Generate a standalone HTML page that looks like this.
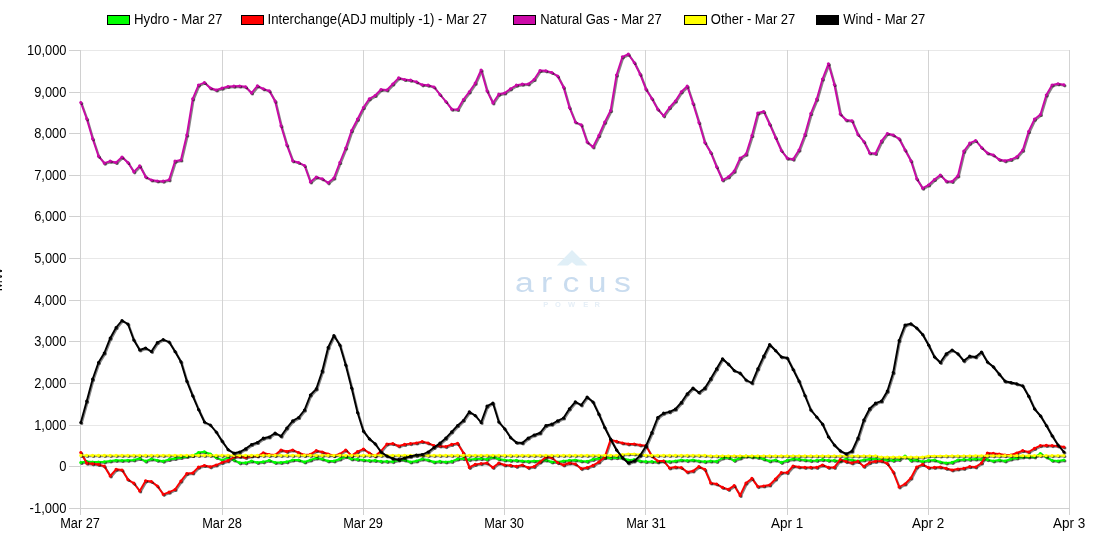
<!DOCTYPE html>
<html><head><meta charset="utf-8"><title>Chart</title>
<style>
html,body{margin:0;padding:0;background:#fff;}
body{width:1100px;height:560px;overflow:hidden;}
svg{display:block;}
text{font-family:"Liberation Sans",Arial,sans-serif;font-size:14px;fill:#000;}
</style></head><body>
<svg width="1100" height="560" viewBox="0 0 1100 560">
<rect width="1100" height="560" fill="#fff"/>
<g shape-rendering="crispEdges"><line x1="80" y1="50.5" x2="1070" y2="50.5" stroke="#e8e8e8" stroke-width="1"/>
<line x1="80" y1="92.5" x2="1070" y2="92.5" stroke="#e8e8e8" stroke-width="1"/>
<line x1="80" y1="133.5" x2="1070" y2="133.5" stroke="#e8e8e8" stroke-width="1"/>
<line x1="80" y1="175.5" x2="1070" y2="175.5" stroke="#e8e8e8" stroke-width="1"/>
<line x1="80" y1="216.5" x2="1070" y2="216.5" stroke="#e8e8e8" stroke-width="1"/>
<line x1="80" y1="258.5" x2="1070" y2="258.5" stroke="#e8e8e8" stroke-width="1"/>
<line x1="80" y1="300.5" x2="1070" y2="300.5" stroke="#e8e8e8" stroke-width="1"/>
<line x1="80" y1="341.5" x2="1070" y2="341.5" stroke="#e8e8e8" stroke-width="1"/>
<line x1="80" y1="383.5" x2="1070" y2="383.5" stroke="#e8e8e8" stroke-width="1"/>
<line x1="80" y1="425.5" x2="1070" y2="425.5" stroke="#e8e8e8" stroke-width="1"/>
<line x1="80" y1="466.5" x2="1070" y2="466.5" stroke="#e8e8e8" stroke-width="1"/>
<line x1="80" y1="508.5" x2="1070" y2="508.5" stroke="#e8e8e8" stroke-width="1"/>
<line x1="80.5" y1="50" x2="80.5" y2="508" stroke="#d3d3d3" stroke-width="1"/>
<line x1="222.5" y1="50" x2="222.5" y2="508" stroke="#d3d3d3" stroke-width="1"/>
<line x1="363.5" y1="50" x2="363.5" y2="508" stroke="#d3d3d3" stroke-width="1"/>
<line x1="504.5" y1="50" x2="504.5" y2="508" stroke="#d3d3d3" stroke-width="1"/>
<line x1="645.5" y1="50" x2="645.5" y2="508" stroke="#d3d3d3" stroke-width="1"/>
<line x1="787.5" y1="50" x2="787.5" y2="508" stroke="#d3d3d3" stroke-width="1"/>
<line x1="928.5" y1="50" x2="928.5" y2="508" stroke="#d3d3d3" stroke-width="1"/>
<line x1="1069.5" y1="50" x2="1069.5" y2="508" stroke="#d3d3d3" stroke-width="1"/></g>
<g shape-rendering="crispEdges"><line x1="80.5" y1="50" x2="80.5" y2="509" stroke="#d0d0d0"/>
<line x1="69" y1="508.5" x2="1070" y2="508.5" stroke="#d0d0d0"/>
<line x1="69" y1="50.5" x2="80" y2="50.5" stroke="#d0d0d0"/>
<line x1="69" y1="92.5" x2="80" y2="92.5" stroke="#d0d0d0"/>
<line x1="69" y1="133.5" x2="80" y2="133.5" stroke="#d0d0d0"/>
<line x1="69" y1="175.5" x2="80" y2="175.5" stroke="#d0d0d0"/>
<line x1="69" y1="216.5" x2="80" y2="216.5" stroke="#d0d0d0"/>
<line x1="69" y1="258.5" x2="80" y2="258.5" stroke="#d0d0d0"/>
<line x1="69" y1="300.5" x2="80" y2="300.5" stroke="#d0d0d0"/>
<line x1="69" y1="341.5" x2="80" y2="341.5" stroke="#d0d0d0"/>
<line x1="69" y1="383.5" x2="80" y2="383.5" stroke="#d0d0d0"/>
<line x1="69" y1="425.5" x2="80" y2="425.5" stroke="#d0d0d0"/>
<line x1="69" y1="466.5" x2="80" y2="466.5" stroke="#d0d0d0"/>
<line x1="69" y1="508.5" x2="80" y2="508.5" stroke="#d0d0d0"/>
<line x1="80.5" y1="508" x2="80.5" y2="515" stroke="#d0d0d0"/>
<line x1="222.5" y1="508" x2="222.5" y2="515" stroke="#d0d0d0"/>
<line x1="363.5" y1="508" x2="363.5" y2="515" stroke="#d0d0d0"/>
<line x1="504.5" y1="508" x2="504.5" y2="515" stroke="#d0d0d0"/>
<line x1="645.5" y1="508" x2="645.5" y2="515" stroke="#d0d0d0"/>
<line x1="787.5" y1="508" x2="787.5" y2="515" stroke="#d0d0d0"/>
<line x1="928.5" y1="508" x2="928.5" y2="515" stroke="#d0d0d0"/>
<line x1="1069.5" y1="508" x2="1069.5" y2="515" stroke="#d0d0d0"/></g>
<g id="wm">
<path d="M572,250 L587.5,265.6 L576,265.6 L572,262.3 L568,265.6 L556.8,265.6 Z" fill="#e0eff7"/>
<g transform="scale(1.25,1)"><text x="412 432.8 450 470.2 491.3" y="291.8" style="font-size:27px;fill:#c9dcef;">arcus</text></g>
<text x="543.2 554.9 567.9 583.2 594.6" y="306.8" style="font-size:7.5px;fill:#e6eff7;font-weight:bold;">POWER</text>
</g>
<g id="series">
<g fill="none" stroke-linejoin="round" stroke-linecap="round">
<polyline points="80.8,462.5 86.7,461.5 92.6,462.0 98.5,462.0 104.3,461.8 110.2,461.0 116.1,460.3 122.0,460.5 127.9,460.3 133.8,460.0 139.7,458.5 145.6,461.2 151.4,459.0 157.3,460.3 163.2,461.2 169.1,459.5 175.0,458.5 180.9,457.5 186.8,456.5 192.7,455.5 198.5,452.5 204.4,451.8 210.3,454.0 216.2,457.5 222.1,460.0 228.0,457.5 233.9,460.0 239.7,462.8 245.6,462.8 251.5,461.0 257.4,462.5 263.3,461.8 269.2,460.3 275.1,462.5 281.0,462.5 286.8,461.8 292.7,460.0 298.6,460.0 304.5,462.0 310.4,460.0 316.3,458.0 322.2,459.0 328.1,461.0 333.9,461.0 339.8,459.0 345.7,456.6 351.6,459.0 357.5,459.4 363.4,460.0 369.3,460.6 375.1,460.4 381.0,461.4 386.9,461.4 392.8,461.6 398.7,460.0 404.6,460.0 410.5,462.0 416.4,461.0 422.2,459.0 428.1,460.0 434.0,462.0 439.9,461.4 445.8,462.0 451.7,461.4 457.6,459.0 463.4,458.6 469.3,459.6 475.2,459.0 481.1,458.6 487.0,459.4 492.9,457.0 498.8,459.0 504.7,460.0 510.5,460.4 516.4,460.4 522.3,461.0 528.2,461.4 534.1,461.0 540.0,461.0 545.9,460.0 551.8,462.0 557.6,462.0 563.5,461.0 569.4,460.4 575.3,460.0 581.2,461.0 587.1,461.4 593.0,459.4 598.8,458.4 604.7,457.6 610.6,458.0 616.5,457.6 622.4,458.0 628.3,460.0 634.2,459.6 640.1,461.0 645.9,461.6 651.8,461.6 657.7,462.0 663.6,461.0 669.5,461.6 675.4,461.0 681.3,460.0 687.2,460.6 693.0,460.0 698.9,461.0 704.8,461.6 710.7,461.0 716.6,461.4 722.5,458.0 728.4,457.6 734.2,460.4 740.1,458.0 746.0,456.0 751.9,457.0 757.8,457.4 763.7,459.0 769.6,461.0 775.5,460.0 781.3,462.4 787.2,460.4 793.1,459.0 799.0,459.4 804.9,460.0 810.8,460.6 816.7,460.4 822.5,459.6 828.4,460.4 834.3,460.4 840.2,461.0 846.1,459.0 852.0,460.0 857.9,461.0 863.8,460.0 869.6,459.0 875.5,459.0 881.4,459.6 887.3,460.0 893.2,460.4 899.1,459.6 905.0,456.0 910.9,460.4 916.7,460.0 922.6,461.6 928.5,460.4 934.4,460.0 940.3,462.0 946.2,463.0 952.1,462.4 957.9,460.0 963.8,459.6 969.7,459.4 975.6,459.0 981.5,459.4 987.4,459.6 993.3,461.0 999.2,460.0 1005.0,461.0 1010.9,459.0 1016.8,458.0 1022.7,457.0 1028.6,457.0 1034.5,457.0 1040.4,453.6 1046.3,457.0 1052.1,460.4 1058.0,461.0 1063.9,460.0" transform="translate(1,1)" stroke="#000" stroke-opacity="0.48" stroke-width="1.9"/>
<polyline points="80.8,462.5 86.7,461.5 92.6,462.0 98.5,462.0 104.3,461.8 110.2,461.0 116.1,460.3 122.0,460.5 127.9,460.3 133.8,460.0 139.7,458.5 145.6,461.2 151.4,459.0 157.3,460.3 163.2,461.2 169.1,459.5 175.0,458.5 180.9,457.5 186.8,456.5 192.7,455.5 198.5,452.5 204.4,451.8 210.3,454.0 216.2,457.5 222.1,460.0 228.0,457.5 233.9,460.0 239.7,462.8 245.6,462.8 251.5,461.0 257.4,462.5 263.3,461.8 269.2,460.3 275.1,462.5 281.0,462.5 286.8,461.8 292.7,460.0 298.6,460.0 304.5,462.0 310.4,460.0 316.3,458.0 322.2,459.0 328.1,461.0 333.9,461.0 339.8,459.0 345.7,456.6 351.6,459.0 357.5,459.4 363.4,460.0 369.3,460.6 375.1,460.4 381.0,461.4 386.9,461.4 392.8,461.6 398.7,460.0 404.6,460.0 410.5,462.0 416.4,461.0 422.2,459.0 428.1,460.0 434.0,462.0 439.9,461.4 445.8,462.0 451.7,461.4 457.6,459.0 463.4,458.6 469.3,459.6 475.2,459.0 481.1,458.6 487.0,459.4 492.9,457.0 498.8,459.0 504.7,460.0 510.5,460.4 516.4,460.4 522.3,461.0 528.2,461.4 534.1,461.0 540.0,461.0 545.9,460.0 551.8,462.0 557.6,462.0 563.5,461.0 569.4,460.4 575.3,460.0 581.2,461.0 587.1,461.4 593.0,459.4 598.8,458.4 604.7,457.6 610.6,458.0 616.5,457.6 622.4,458.0 628.3,460.0 634.2,459.6 640.1,461.0 645.9,461.6 651.8,461.6 657.7,462.0 663.6,461.0 669.5,461.6 675.4,461.0 681.3,460.0 687.2,460.6 693.0,460.0 698.9,461.0 704.8,461.6 710.7,461.0 716.6,461.4 722.5,458.0 728.4,457.6 734.2,460.4 740.1,458.0 746.0,456.0 751.9,457.0 757.8,457.4 763.7,459.0 769.6,461.0 775.5,460.0 781.3,462.4 787.2,460.4 793.1,459.0 799.0,459.4 804.9,460.0 810.8,460.6 816.7,460.4 822.5,459.6 828.4,460.4 834.3,460.4 840.2,461.0 846.1,459.0 852.0,460.0 857.9,461.0 863.8,460.0 869.6,459.0 875.5,459.0 881.4,459.6 887.3,460.0 893.2,460.4 899.1,459.6 905.0,456.0 910.9,460.4 916.7,460.0 922.6,461.6 928.5,460.4 934.4,460.0 940.3,462.0 946.2,463.0 952.1,462.4 957.9,460.0 963.8,459.6 969.7,459.4 975.6,459.0 981.5,459.4 987.4,459.6 993.3,461.0 999.2,460.0 1005.0,461.0 1010.9,459.0 1016.8,458.0 1022.7,457.0 1028.6,457.0 1034.5,457.0 1040.4,453.6 1046.3,457.0 1052.1,460.4 1058.0,461.0 1063.9,460.0" stroke="#00fa00" stroke-width="1.9"/>
<path d="M80.8,462.5h0M86.7,461.5h0M92.6,462.0h0M98.5,462.0h0M104.3,461.8h0M110.2,461.0h0M116.1,460.3h0M122.0,460.5h0M127.9,460.3h0M133.8,460.0h0M139.7,458.5h0M145.6,461.2h0M151.4,459.0h0M157.3,460.3h0M163.2,461.2h0M169.1,459.5h0M175.0,458.5h0M180.9,457.5h0M186.8,456.5h0M192.7,455.5h0M198.5,452.5h0M204.4,451.8h0M210.3,454.0h0M216.2,457.5h0M222.1,460.0h0M228.0,457.5h0M233.9,460.0h0M239.7,462.8h0M245.6,462.8h0M251.5,461.0h0M257.4,462.5h0M263.3,461.8h0M269.2,460.3h0M275.1,462.5h0M281.0,462.5h0M286.8,461.8h0M292.7,460.0h0M298.6,460.0h0M304.5,462.0h0M310.4,460.0h0M316.3,458.0h0M322.2,459.0h0M328.1,461.0h0M333.9,461.0h0M339.8,459.0h0M345.7,456.6h0M351.6,459.0h0M357.5,459.4h0M363.4,460.0h0M369.3,460.6h0M375.1,460.4h0M381.0,461.4h0M386.9,461.4h0M392.8,461.6h0M398.7,460.0h0M404.6,460.0h0M410.5,462.0h0M416.4,461.0h0M422.2,459.0h0M428.1,460.0h0M434.0,462.0h0M439.9,461.4h0M445.8,462.0h0M451.7,461.4h0M457.6,459.0h0M463.4,458.6h0M469.3,459.6h0M475.2,459.0h0M481.1,458.6h0M487.0,459.4h0M492.9,457.0h0M498.8,459.0h0M504.7,460.0h0M510.5,460.4h0M516.4,460.4h0M522.3,461.0h0M528.2,461.4h0M534.1,461.0h0M540.0,461.0h0M545.9,460.0h0M551.8,462.0h0M557.6,462.0h0M563.5,461.0h0M569.4,460.4h0M575.3,460.0h0M581.2,461.0h0M587.1,461.4h0M593.0,459.4h0M598.8,458.4h0M604.7,457.6h0M610.6,458.0h0M616.5,457.6h0M622.4,458.0h0M628.3,460.0h0M634.2,459.6h0M640.1,461.0h0M645.9,461.6h0M651.8,461.6h0M657.7,462.0h0M663.6,461.0h0M669.5,461.6h0M675.4,461.0h0M681.3,460.0h0M687.2,460.6h0M693.0,460.0h0M698.9,461.0h0M704.8,461.6h0M710.7,461.0h0M716.6,461.4h0M722.5,458.0h0M728.4,457.6h0M734.2,460.4h0M740.1,458.0h0M746.0,456.0h0M751.9,457.0h0M757.8,457.4h0M763.7,459.0h0M769.6,461.0h0M775.5,460.0h0M781.3,462.4h0M787.2,460.4h0M793.1,459.0h0M799.0,459.4h0M804.9,460.0h0M810.8,460.6h0M816.7,460.4h0M822.5,459.6h0M828.4,460.4h0M834.3,460.4h0M840.2,461.0h0M846.1,459.0h0M852.0,460.0h0M857.9,461.0h0M863.8,460.0h0M869.6,459.0h0M875.5,459.0h0M881.4,459.6h0M887.3,460.0h0M893.2,460.4h0M899.1,459.6h0M905.0,456.0h0M910.9,460.4h0M916.7,460.0h0M922.6,461.6h0M928.5,460.4h0M934.4,460.0h0M940.3,462.0h0M946.2,463.0h0M952.1,462.4h0M957.9,460.0h0M963.8,459.6h0M969.7,459.4h0M975.6,459.0h0M981.5,459.4h0M987.4,459.6h0M993.3,461.0h0M999.2,460.0h0M1005.0,461.0h0M1010.9,459.0h0M1016.8,458.0h0M1022.7,457.0h0M1028.6,457.0h0M1034.5,457.0h0M1040.4,453.6h0M1046.3,457.0h0M1052.1,460.4h0M1058.0,461.0h0M1063.9,460.0h0" transform="translate(1,1)" stroke="#000" stroke-opacity="0.50" stroke-width="3.2"/>
<path d="M80.8,462.5h0M86.7,461.5h0M92.6,462.0h0M98.5,462.0h0M104.3,461.8h0M110.2,461.0h0M116.1,460.3h0M122.0,460.5h0M127.9,460.3h0M133.8,460.0h0M139.7,458.5h0M145.6,461.2h0M151.4,459.0h0M157.3,460.3h0M163.2,461.2h0M169.1,459.5h0M175.0,458.5h0M180.9,457.5h0M186.8,456.5h0M192.7,455.5h0M198.5,452.5h0M204.4,451.8h0M210.3,454.0h0M216.2,457.5h0M222.1,460.0h0M228.0,457.5h0M233.9,460.0h0M239.7,462.8h0M245.6,462.8h0M251.5,461.0h0M257.4,462.5h0M263.3,461.8h0M269.2,460.3h0M275.1,462.5h0M281.0,462.5h0M286.8,461.8h0M292.7,460.0h0M298.6,460.0h0M304.5,462.0h0M310.4,460.0h0M316.3,458.0h0M322.2,459.0h0M328.1,461.0h0M333.9,461.0h0M339.8,459.0h0M345.7,456.6h0M351.6,459.0h0M357.5,459.4h0M363.4,460.0h0M369.3,460.6h0M375.1,460.4h0M381.0,461.4h0M386.9,461.4h0M392.8,461.6h0M398.7,460.0h0M404.6,460.0h0M410.5,462.0h0M416.4,461.0h0M422.2,459.0h0M428.1,460.0h0M434.0,462.0h0M439.9,461.4h0M445.8,462.0h0M451.7,461.4h0M457.6,459.0h0M463.4,458.6h0M469.3,459.6h0M475.2,459.0h0M481.1,458.6h0M487.0,459.4h0M492.9,457.0h0M498.8,459.0h0M504.7,460.0h0M510.5,460.4h0M516.4,460.4h0M522.3,461.0h0M528.2,461.4h0M534.1,461.0h0M540.0,461.0h0M545.9,460.0h0M551.8,462.0h0M557.6,462.0h0M563.5,461.0h0M569.4,460.4h0M575.3,460.0h0M581.2,461.0h0M587.1,461.4h0M593.0,459.4h0M598.8,458.4h0M604.7,457.6h0M610.6,458.0h0M616.5,457.6h0M622.4,458.0h0M628.3,460.0h0M634.2,459.6h0M640.1,461.0h0M645.9,461.6h0M651.8,461.6h0M657.7,462.0h0M663.6,461.0h0M669.5,461.6h0M675.4,461.0h0M681.3,460.0h0M687.2,460.6h0M693.0,460.0h0M698.9,461.0h0M704.8,461.6h0M710.7,461.0h0M716.6,461.4h0M722.5,458.0h0M728.4,457.6h0M734.2,460.4h0M740.1,458.0h0M746.0,456.0h0M751.9,457.0h0M757.8,457.4h0M763.7,459.0h0M769.6,461.0h0M775.5,460.0h0M781.3,462.4h0M787.2,460.4h0M793.1,459.0h0M799.0,459.4h0M804.9,460.0h0M810.8,460.6h0M816.7,460.4h0M822.5,459.6h0M828.4,460.4h0M834.3,460.4h0M840.2,461.0h0M846.1,459.0h0M852.0,460.0h0M857.9,461.0h0M863.8,460.0h0M869.6,459.0h0M875.5,459.0h0M881.4,459.6h0M887.3,460.0h0M893.2,460.4h0M899.1,459.6h0M905.0,456.0h0M910.9,460.4h0M916.7,460.0h0M922.6,461.6h0M928.5,460.4h0M934.4,460.0h0M940.3,462.0h0M946.2,463.0h0M952.1,462.4h0M957.9,460.0h0M963.8,459.6h0M969.7,459.4h0M975.6,459.0h0M981.5,459.4h0M987.4,459.6h0M993.3,461.0h0M999.2,460.0h0M1005.0,461.0h0M1010.9,459.0h0M1016.8,458.0h0M1022.7,457.0h0M1028.6,457.0h0M1034.5,457.0h0M1040.4,453.6h0M1046.3,457.0h0M1052.1,460.4h0M1058.0,461.0h0M1063.9,460.0h0" stroke="#00fa00" stroke-width="3.2"/>
</g>
<g fill="none" stroke-linejoin="round" stroke-linecap="round">
<polyline points="80.8,452.5 86.7,463.2 92.6,463.8 98.5,464.5 104.3,466.2 110.2,476.0 116.1,469.3 122.0,470.0 127.9,479.5 133.8,483.2 139.7,491.0 145.6,480.8 151.4,481.5 157.3,486.0 163.2,494.3 169.1,492.2 175.0,489.5 180.9,481.0 186.8,473.5 192.7,473.0 198.5,467.2 204.4,465.5 210.3,466.8 216.2,465.0 222.1,462.5 228.0,460.8 233.9,457.0 239.7,456.5 245.6,457.5 251.5,456.0 257.4,456.0 263.3,452.8 269.2,454.5 275.1,455.0 281.0,450.0 286.8,451.5 292.7,450.0 298.6,452.6 304.5,455.0 310.4,454.4 316.3,450.6 322.2,452.0 328.1,454.0 333.9,455.6 339.8,454.0 345.7,450.0 351.6,455.6 357.5,451.6 363.4,449.0 369.3,453.0 375.1,456.0 381.0,451.0 386.9,444.0 392.8,443.6 398.7,446.0 404.6,444.4 410.5,443.6 416.4,443.0 422.2,441.6 428.1,443.0 434.0,445.6 439.9,446.0 445.8,446.6 451.7,444.4 457.6,443.4 463.4,453.0 469.3,467.4 475.2,464.4 481.1,463.6 487.0,463.0 492.9,467.4 498.8,463.0 504.7,465.0 510.5,465.4 516.4,466.4 522.3,465.0 528.2,467.6 534.1,466.6 540.0,462.0 545.9,457.0 551.8,457.6 557.6,462.6 563.5,465.0 569.4,463.0 575.3,464.0 581.2,468.6 587.1,467.6 593.0,465.4 598.8,462.0 604.7,457.0 610.6,439.6 616.5,441.4 622.4,443.0 628.3,444.0 634.2,444.0 640.1,445.0 645.9,445.6 651.8,456.0 657.7,461.0 663.6,461.0 669.5,468.0 675.4,467.0 681.3,467.6 687.2,472.0 693.0,471.0 698.9,466.6 704.8,469.4 710.7,483.0 716.6,484.0 722.5,487.4 728.4,489.4 734.2,485.6 740.1,495.4 746.0,483.0 751.9,478.4 757.8,486.6 763.7,486.0 769.6,485.0 775.5,479.0 781.3,472.6 787.2,472.6 793.1,466.0 799.0,467.0 804.9,467.4 810.8,467.4 816.7,467.4 822.5,465.0 828.4,467.4 834.3,467.4 840.2,459.6 846.1,461.6 852.0,463.0 857.9,461.4 863.8,466.4 869.6,462.6 875.5,461.4 881.4,461.0 887.3,463.6 893.2,472.0 899.1,487.0 905.0,484.0 910.9,478.0 916.7,467.0 922.6,464.4 928.5,467.6 934.4,467.4 940.3,467.0 946.2,468.4 952.1,470.0 957.9,469.0 963.8,468.4 969.7,466.6 975.6,467.0 981.5,463.0 987.4,453.0 993.3,453.4 999.2,454.0 1005.0,455.0 1010.9,455.0 1016.8,453.0 1022.7,450.6 1028.6,452.0 1034.5,448.4 1040.4,445.6 1046.3,445.4 1052.1,445.6 1058.0,446.0 1063.9,447.0" transform="translate(1,1)" stroke="#000" stroke-opacity="0.48" stroke-width="1.9"/>
<polyline points="80.8,452.5 86.7,463.2 92.6,463.8 98.5,464.5 104.3,466.2 110.2,476.0 116.1,469.3 122.0,470.0 127.9,479.5 133.8,483.2 139.7,491.0 145.6,480.8 151.4,481.5 157.3,486.0 163.2,494.3 169.1,492.2 175.0,489.5 180.9,481.0 186.8,473.5 192.7,473.0 198.5,467.2 204.4,465.5 210.3,466.8 216.2,465.0 222.1,462.5 228.0,460.8 233.9,457.0 239.7,456.5 245.6,457.5 251.5,456.0 257.4,456.0 263.3,452.8 269.2,454.5 275.1,455.0 281.0,450.0 286.8,451.5 292.7,450.0 298.6,452.6 304.5,455.0 310.4,454.4 316.3,450.6 322.2,452.0 328.1,454.0 333.9,455.6 339.8,454.0 345.7,450.0 351.6,455.6 357.5,451.6 363.4,449.0 369.3,453.0 375.1,456.0 381.0,451.0 386.9,444.0 392.8,443.6 398.7,446.0 404.6,444.4 410.5,443.6 416.4,443.0 422.2,441.6 428.1,443.0 434.0,445.6 439.9,446.0 445.8,446.6 451.7,444.4 457.6,443.4 463.4,453.0 469.3,467.4 475.2,464.4 481.1,463.6 487.0,463.0 492.9,467.4 498.8,463.0 504.7,465.0 510.5,465.4 516.4,466.4 522.3,465.0 528.2,467.6 534.1,466.6 540.0,462.0 545.9,457.0 551.8,457.6 557.6,462.6 563.5,465.0 569.4,463.0 575.3,464.0 581.2,468.6 587.1,467.6 593.0,465.4 598.8,462.0 604.7,457.0 610.6,439.6 616.5,441.4 622.4,443.0 628.3,444.0 634.2,444.0 640.1,445.0 645.9,445.6 651.8,456.0 657.7,461.0 663.6,461.0 669.5,468.0 675.4,467.0 681.3,467.6 687.2,472.0 693.0,471.0 698.9,466.6 704.8,469.4 710.7,483.0 716.6,484.0 722.5,487.4 728.4,489.4 734.2,485.6 740.1,495.4 746.0,483.0 751.9,478.4 757.8,486.6 763.7,486.0 769.6,485.0 775.5,479.0 781.3,472.6 787.2,472.6 793.1,466.0 799.0,467.0 804.9,467.4 810.8,467.4 816.7,467.4 822.5,465.0 828.4,467.4 834.3,467.4 840.2,459.6 846.1,461.6 852.0,463.0 857.9,461.4 863.8,466.4 869.6,462.6 875.5,461.4 881.4,461.0 887.3,463.6 893.2,472.0 899.1,487.0 905.0,484.0 910.9,478.0 916.7,467.0 922.6,464.4 928.5,467.6 934.4,467.4 940.3,467.0 946.2,468.4 952.1,470.0 957.9,469.0 963.8,468.4 969.7,466.6 975.6,467.0 981.5,463.0 987.4,453.0 993.3,453.4 999.2,454.0 1005.0,455.0 1010.9,455.0 1016.8,453.0 1022.7,450.6 1028.6,452.0 1034.5,448.4 1040.4,445.6 1046.3,445.4 1052.1,445.6 1058.0,446.0 1063.9,447.0" stroke="#fc0000" stroke-width="1.9"/>
<path d="M80.8,452.5h0M86.7,463.2h0M92.6,463.8h0M98.5,464.5h0M104.3,466.2h0M110.2,476.0h0M116.1,469.3h0M122.0,470.0h0M127.9,479.5h0M133.8,483.2h0M139.7,491.0h0M145.6,480.8h0M151.4,481.5h0M157.3,486.0h0M163.2,494.3h0M169.1,492.2h0M175.0,489.5h0M180.9,481.0h0M186.8,473.5h0M192.7,473.0h0M198.5,467.2h0M204.4,465.5h0M210.3,466.8h0M216.2,465.0h0M222.1,462.5h0M228.0,460.8h0M233.9,457.0h0M239.7,456.5h0M245.6,457.5h0M251.5,456.0h0M257.4,456.0h0M263.3,452.8h0M269.2,454.5h0M275.1,455.0h0M281.0,450.0h0M286.8,451.5h0M292.7,450.0h0M298.6,452.6h0M304.5,455.0h0M310.4,454.4h0M316.3,450.6h0M322.2,452.0h0M328.1,454.0h0M333.9,455.6h0M339.8,454.0h0M345.7,450.0h0M351.6,455.6h0M357.5,451.6h0M363.4,449.0h0M369.3,453.0h0M375.1,456.0h0M381.0,451.0h0M386.9,444.0h0M392.8,443.6h0M398.7,446.0h0M404.6,444.4h0M410.5,443.6h0M416.4,443.0h0M422.2,441.6h0M428.1,443.0h0M434.0,445.6h0M439.9,446.0h0M445.8,446.6h0M451.7,444.4h0M457.6,443.4h0M463.4,453.0h0M469.3,467.4h0M475.2,464.4h0M481.1,463.6h0M487.0,463.0h0M492.9,467.4h0M498.8,463.0h0M504.7,465.0h0M510.5,465.4h0M516.4,466.4h0M522.3,465.0h0M528.2,467.6h0M534.1,466.6h0M540.0,462.0h0M545.9,457.0h0M551.8,457.6h0M557.6,462.6h0M563.5,465.0h0M569.4,463.0h0M575.3,464.0h0M581.2,468.6h0M587.1,467.6h0M593.0,465.4h0M598.8,462.0h0M604.7,457.0h0M610.6,439.6h0M616.5,441.4h0M622.4,443.0h0M628.3,444.0h0M634.2,444.0h0M640.1,445.0h0M645.9,445.6h0M651.8,456.0h0M657.7,461.0h0M663.6,461.0h0M669.5,468.0h0M675.4,467.0h0M681.3,467.6h0M687.2,472.0h0M693.0,471.0h0M698.9,466.6h0M704.8,469.4h0M710.7,483.0h0M716.6,484.0h0M722.5,487.4h0M728.4,489.4h0M734.2,485.6h0M740.1,495.4h0M746.0,483.0h0M751.9,478.4h0M757.8,486.6h0M763.7,486.0h0M769.6,485.0h0M775.5,479.0h0M781.3,472.6h0M787.2,472.6h0M793.1,466.0h0M799.0,467.0h0M804.9,467.4h0M810.8,467.4h0M816.7,467.4h0M822.5,465.0h0M828.4,467.4h0M834.3,467.4h0M840.2,459.6h0M846.1,461.6h0M852.0,463.0h0M857.9,461.4h0M863.8,466.4h0M869.6,462.6h0M875.5,461.4h0M881.4,461.0h0M887.3,463.6h0M893.2,472.0h0M899.1,487.0h0M905.0,484.0h0M910.9,478.0h0M916.7,467.0h0M922.6,464.4h0M928.5,467.6h0M934.4,467.4h0M940.3,467.0h0M946.2,468.4h0M952.1,470.0h0M957.9,469.0h0M963.8,468.4h0M969.7,466.6h0M975.6,467.0h0M981.5,463.0h0M987.4,453.0h0M993.3,453.4h0M999.2,454.0h0M1005.0,455.0h0M1010.9,455.0h0M1016.8,453.0h0M1022.7,450.6h0M1028.6,452.0h0M1034.5,448.4h0M1040.4,445.6h0M1046.3,445.4h0M1052.1,445.6h0M1058.0,446.0h0M1063.9,447.0h0" transform="translate(1,1)" stroke="#000" stroke-opacity="0.50" stroke-width="3.2"/>
<path d="M80.8,452.5h0M86.7,463.2h0M92.6,463.8h0M98.5,464.5h0M104.3,466.2h0M110.2,476.0h0M116.1,469.3h0M122.0,470.0h0M127.9,479.5h0M133.8,483.2h0M139.7,491.0h0M145.6,480.8h0M151.4,481.5h0M157.3,486.0h0M163.2,494.3h0M169.1,492.2h0M175.0,489.5h0M180.9,481.0h0M186.8,473.5h0M192.7,473.0h0M198.5,467.2h0M204.4,465.5h0M210.3,466.8h0M216.2,465.0h0M222.1,462.5h0M228.0,460.8h0M233.9,457.0h0M239.7,456.5h0M245.6,457.5h0M251.5,456.0h0M257.4,456.0h0M263.3,452.8h0M269.2,454.5h0M275.1,455.0h0M281.0,450.0h0M286.8,451.5h0M292.7,450.0h0M298.6,452.6h0M304.5,455.0h0M310.4,454.4h0M316.3,450.6h0M322.2,452.0h0M328.1,454.0h0M333.9,455.6h0M339.8,454.0h0M345.7,450.0h0M351.6,455.6h0M357.5,451.6h0M363.4,449.0h0M369.3,453.0h0M375.1,456.0h0M381.0,451.0h0M386.9,444.0h0M392.8,443.6h0M398.7,446.0h0M404.6,444.4h0M410.5,443.6h0M416.4,443.0h0M422.2,441.6h0M428.1,443.0h0M434.0,445.6h0M439.9,446.0h0M445.8,446.6h0M451.7,444.4h0M457.6,443.4h0M463.4,453.0h0M469.3,467.4h0M475.2,464.4h0M481.1,463.6h0M487.0,463.0h0M492.9,467.4h0M498.8,463.0h0M504.7,465.0h0M510.5,465.4h0M516.4,466.4h0M522.3,465.0h0M528.2,467.6h0M534.1,466.6h0M540.0,462.0h0M545.9,457.0h0M551.8,457.6h0M557.6,462.6h0M563.5,465.0h0M569.4,463.0h0M575.3,464.0h0M581.2,468.6h0M587.1,467.6h0M593.0,465.4h0M598.8,462.0h0M604.7,457.0h0M610.6,439.6h0M616.5,441.4h0M622.4,443.0h0M628.3,444.0h0M634.2,444.0h0M640.1,445.0h0M645.9,445.6h0M651.8,456.0h0M657.7,461.0h0M663.6,461.0h0M669.5,468.0h0M675.4,467.0h0M681.3,467.6h0M687.2,472.0h0M693.0,471.0h0M698.9,466.6h0M704.8,469.4h0M710.7,483.0h0M716.6,484.0h0M722.5,487.4h0M728.4,489.4h0M734.2,485.6h0M740.1,495.4h0M746.0,483.0h0M751.9,478.4h0M757.8,486.6h0M763.7,486.0h0M769.6,485.0h0M775.5,479.0h0M781.3,472.6h0M787.2,472.6h0M793.1,466.0h0M799.0,467.0h0M804.9,467.4h0M810.8,467.4h0M816.7,467.4h0M822.5,465.0h0M828.4,467.4h0M834.3,467.4h0M840.2,459.6h0M846.1,461.6h0M852.0,463.0h0M857.9,461.4h0M863.8,466.4h0M869.6,462.6h0M875.5,461.4h0M881.4,461.0h0M887.3,463.6h0M893.2,472.0h0M899.1,487.0h0M905.0,484.0h0M910.9,478.0h0M916.7,467.0h0M922.6,464.4h0M928.5,467.6h0M934.4,467.4h0M940.3,467.0h0M946.2,468.4h0M952.1,470.0h0M957.9,469.0h0M963.8,468.4h0M969.7,466.6h0M975.6,467.0h0M981.5,463.0h0M987.4,453.0h0M993.3,453.4h0M999.2,454.0h0M1005.0,455.0h0M1010.9,455.0h0M1016.8,453.0h0M1022.7,450.6h0M1028.6,452.0h0M1034.5,448.4h0M1040.4,445.6h0M1046.3,445.4h0M1052.1,445.6h0M1058.0,446.0h0M1063.9,447.0h0" stroke="#fc0000" stroke-width="3.2"/>
</g>
<g fill="none" stroke-linejoin="round" stroke-linecap="round">
<polyline points="80.8,102.5 86.7,118.8 92.6,138.8 98.5,156.2 104.3,163.2 110.2,161.2 116.1,162.5 122.0,157.0 127.9,162.5 133.8,171.8 139.7,165.8 145.6,176.8 151.4,180.0 157.3,181.0 163.2,181.2 169.1,179.8 175.0,161.2 180.9,160.0 186.8,135.0 192.7,98.8 198.5,85.0 204.4,82.5 210.3,88.0 216.2,90.0 222.1,88.2 228.0,86.5 233.9,86.2 239.7,86.0 245.6,86.8 251.5,93.0 257.4,85.8 263.3,88.8 269.2,90.8 275.1,101.2 281.0,125.8 286.8,145.0 292.7,160.8 298.6,162.5 304.5,165.5 310.4,182.0 316.3,177.0 322.2,178.8 328.1,182.8 333.9,178.0 339.8,162.5 345.7,148.0 351.6,130.5 357.5,119.2 363.4,107.5 369.3,98.8 375.1,95.5 381.0,89.5 386.9,90.0 392.8,84.0 398.7,77.8 404.6,79.5 410.5,80.2 416.4,81.8 422.2,84.8 428.1,85.2 434.0,87.0 439.9,94.5 445.8,101.5 451.7,109.2 457.6,109.5 463.4,99.5 469.3,91.8 475.2,83.2 481.1,70.0 487.0,90.8 492.9,103.0 498.8,94.2 504.7,93.0 510.5,88.8 516.4,85.2 522.3,84.2 528.2,84.0 534.1,79.5 540.0,70.5 545.9,70.8 551.8,72.5 557.6,76.0 563.5,87.2 569.4,107.5 575.3,122.0 581.2,124.8 587.1,142.0 593.0,147.0 598.8,135.5 604.7,122.2 610.6,110.5 616.5,75.0 622.4,56.8 628.3,54.2 634.2,62.5 640.1,74.2 645.9,89.2 651.8,98.5 657.7,109.2 663.6,115.8 669.5,107.5 675.4,101.0 681.3,91.8 687.2,86.2 693.0,103.5 698.9,122.5 704.8,142.5 710.7,152.5 716.6,166.8 722.5,180.0 728.4,176.8 734.2,171.2 740.1,158.2 746.0,154.2 751.9,135.5 757.8,113.0 763.7,111.5 769.6,124.2 775.5,137.5 781.3,150.5 787.2,158.2 793.1,159.2 799.0,150.0 804.9,134.5 810.8,113.5 816.7,99.2 822.5,79.0 828.4,63.8 834.3,84.5 840.2,114.0 846.1,120.0 852.0,120.8 857.9,134.5 863.8,141.5 869.6,153.0 875.5,153.5 881.4,141.2 887.3,133.5 893.2,135.0 899.1,138.8 905.0,150.0 910.9,160.8 916.7,178.8 922.6,188.2 928.5,185.0 934.4,179.5 940.3,175.0 946.2,181.2 952.1,181.5 957.9,175.8 963.8,151.2 969.7,143.2 975.6,140.5 981.5,147.5 987.4,153.0 993.3,155.0 999.2,159.5 1005.0,160.8 1010.9,159.5 1016.8,156.8 1022.7,150.2 1028.6,131.5 1034.5,119.2 1040.4,114.5 1046.3,95.0 1052.1,85.0 1058.0,83.8 1063.9,84.8" transform="translate(1,1)" stroke="#000" stroke-opacity="0.48" stroke-width="1.9"/>
<polyline points="80.8,102.5 86.7,118.8 92.6,138.8 98.5,156.2 104.3,163.2 110.2,161.2 116.1,162.5 122.0,157.0 127.9,162.5 133.8,171.8 139.7,165.8 145.6,176.8 151.4,180.0 157.3,181.0 163.2,181.2 169.1,179.8 175.0,161.2 180.9,160.0 186.8,135.0 192.7,98.8 198.5,85.0 204.4,82.5 210.3,88.0 216.2,90.0 222.1,88.2 228.0,86.5 233.9,86.2 239.7,86.0 245.6,86.8 251.5,93.0 257.4,85.8 263.3,88.8 269.2,90.8 275.1,101.2 281.0,125.8 286.8,145.0 292.7,160.8 298.6,162.5 304.5,165.5 310.4,182.0 316.3,177.0 322.2,178.8 328.1,182.8 333.9,178.0 339.8,162.5 345.7,148.0 351.6,130.5 357.5,119.2 363.4,107.5 369.3,98.8 375.1,95.5 381.0,89.5 386.9,90.0 392.8,84.0 398.7,77.8 404.6,79.5 410.5,80.2 416.4,81.8 422.2,84.8 428.1,85.2 434.0,87.0 439.9,94.5 445.8,101.5 451.7,109.2 457.6,109.5 463.4,99.5 469.3,91.8 475.2,83.2 481.1,70.0 487.0,90.8 492.9,103.0 498.8,94.2 504.7,93.0 510.5,88.8 516.4,85.2 522.3,84.2 528.2,84.0 534.1,79.5 540.0,70.5 545.9,70.8 551.8,72.5 557.6,76.0 563.5,87.2 569.4,107.5 575.3,122.0 581.2,124.8 587.1,142.0 593.0,147.0 598.8,135.5 604.7,122.2 610.6,110.5 616.5,75.0 622.4,56.8 628.3,54.2 634.2,62.5 640.1,74.2 645.9,89.2 651.8,98.5 657.7,109.2 663.6,115.8 669.5,107.5 675.4,101.0 681.3,91.8 687.2,86.2 693.0,103.5 698.9,122.5 704.8,142.5 710.7,152.5 716.6,166.8 722.5,180.0 728.4,176.8 734.2,171.2 740.1,158.2 746.0,154.2 751.9,135.5 757.8,113.0 763.7,111.5 769.6,124.2 775.5,137.5 781.3,150.5 787.2,158.2 793.1,159.2 799.0,150.0 804.9,134.5 810.8,113.5 816.7,99.2 822.5,79.0 828.4,63.8 834.3,84.5 840.2,114.0 846.1,120.0 852.0,120.8 857.9,134.5 863.8,141.5 869.6,153.0 875.5,153.5 881.4,141.2 887.3,133.5 893.2,135.0 899.1,138.8 905.0,150.0 910.9,160.8 916.7,178.8 922.6,188.2 928.5,185.0 934.4,179.5 940.3,175.0 946.2,181.2 952.1,181.5 957.9,175.8 963.8,151.2 969.7,143.2 975.6,140.5 981.5,147.5 987.4,153.0 993.3,155.0 999.2,159.5 1005.0,160.8 1010.9,159.5 1016.8,156.8 1022.7,150.2 1028.6,131.5 1034.5,119.2 1040.4,114.5 1046.3,95.0 1052.1,85.0 1058.0,83.8 1063.9,84.8" stroke="#c80aa6" stroke-width="1.9"/>
<path d="M80.8,102.5h0M86.7,118.8h0M92.6,138.8h0M98.5,156.2h0M104.3,163.2h0M110.2,161.2h0M116.1,162.5h0M122.0,157.0h0M127.9,162.5h0M133.8,171.8h0M139.7,165.8h0M145.6,176.8h0M151.4,180.0h0M157.3,181.0h0M163.2,181.2h0M169.1,179.8h0M175.0,161.2h0M180.9,160.0h0M186.8,135.0h0M192.7,98.8h0M198.5,85.0h0M204.4,82.5h0M210.3,88.0h0M216.2,90.0h0M222.1,88.2h0M228.0,86.5h0M233.9,86.2h0M239.7,86.0h0M245.6,86.8h0M251.5,93.0h0M257.4,85.8h0M263.3,88.8h0M269.2,90.8h0M275.1,101.2h0M281.0,125.8h0M286.8,145.0h0M292.7,160.8h0M298.6,162.5h0M304.5,165.5h0M310.4,182.0h0M316.3,177.0h0M322.2,178.8h0M328.1,182.8h0M333.9,178.0h0M339.8,162.5h0M345.7,148.0h0M351.6,130.5h0M357.5,119.2h0M363.4,107.5h0M369.3,98.8h0M375.1,95.5h0M381.0,89.5h0M386.9,90.0h0M392.8,84.0h0M398.7,77.8h0M404.6,79.5h0M410.5,80.2h0M416.4,81.8h0M422.2,84.8h0M428.1,85.2h0M434.0,87.0h0M439.9,94.5h0M445.8,101.5h0M451.7,109.2h0M457.6,109.5h0M463.4,99.5h0M469.3,91.8h0M475.2,83.2h0M481.1,70.0h0M487.0,90.8h0M492.9,103.0h0M498.8,94.2h0M504.7,93.0h0M510.5,88.8h0M516.4,85.2h0M522.3,84.2h0M528.2,84.0h0M534.1,79.5h0M540.0,70.5h0M545.9,70.8h0M551.8,72.5h0M557.6,76.0h0M563.5,87.2h0M569.4,107.5h0M575.3,122.0h0M581.2,124.8h0M587.1,142.0h0M593.0,147.0h0M598.8,135.5h0M604.7,122.2h0M610.6,110.5h0M616.5,75.0h0M622.4,56.8h0M628.3,54.2h0M634.2,62.5h0M640.1,74.2h0M645.9,89.2h0M651.8,98.5h0M657.7,109.2h0M663.6,115.8h0M669.5,107.5h0M675.4,101.0h0M681.3,91.8h0M687.2,86.2h0M693.0,103.5h0M698.9,122.5h0M704.8,142.5h0M710.7,152.5h0M716.6,166.8h0M722.5,180.0h0M728.4,176.8h0M734.2,171.2h0M740.1,158.2h0M746.0,154.2h0M751.9,135.5h0M757.8,113.0h0M763.7,111.5h0M769.6,124.2h0M775.5,137.5h0M781.3,150.5h0M787.2,158.2h0M793.1,159.2h0M799.0,150.0h0M804.9,134.5h0M810.8,113.5h0M816.7,99.2h0M822.5,79.0h0M828.4,63.8h0M834.3,84.5h0M840.2,114.0h0M846.1,120.0h0M852.0,120.8h0M857.9,134.5h0M863.8,141.5h0M869.6,153.0h0M875.5,153.5h0M881.4,141.2h0M887.3,133.5h0M893.2,135.0h0M899.1,138.8h0M905.0,150.0h0M910.9,160.8h0M916.7,178.8h0M922.6,188.2h0M928.5,185.0h0M934.4,179.5h0M940.3,175.0h0M946.2,181.2h0M952.1,181.5h0M957.9,175.8h0M963.8,151.2h0M969.7,143.2h0M975.6,140.5h0M981.5,147.5h0M987.4,153.0h0M993.3,155.0h0M999.2,159.5h0M1005.0,160.8h0M1010.9,159.5h0M1016.8,156.8h0M1022.7,150.2h0M1028.6,131.5h0M1034.5,119.2h0M1040.4,114.5h0M1046.3,95.0h0M1052.1,85.0h0M1058.0,83.8h0M1063.9,84.8h0" transform="translate(1,1)" stroke="#000" stroke-opacity="0.50" stroke-width="3.2"/>
<path d="M80.8,102.5h0M86.7,118.8h0M92.6,138.8h0M98.5,156.2h0M104.3,163.2h0M110.2,161.2h0M116.1,162.5h0M122.0,157.0h0M127.9,162.5h0M133.8,171.8h0M139.7,165.8h0M145.6,176.8h0M151.4,180.0h0M157.3,181.0h0M163.2,181.2h0M169.1,179.8h0M175.0,161.2h0M180.9,160.0h0M186.8,135.0h0M192.7,98.8h0M198.5,85.0h0M204.4,82.5h0M210.3,88.0h0M216.2,90.0h0M222.1,88.2h0M228.0,86.5h0M233.9,86.2h0M239.7,86.0h0M245.6,86.8h0M251.5,93.0h0M257.4,85.8h0M263.3,88.8h0M269.2,90.8h0M275.1,101.2h0M281.0,125.8h0M286.8,145.0h0M292.7,160.8h0M298.6,162.5h0M304.5,165.5h0M310.4,182.0h0M316.3,177.0h0M322.2,178.8h0M328.1,182.8h0M333.9,178.0h0M339.8,162.5h0M345.7,148.0h0M351.6,130.5h0M357.5,119.2h0M363.4,107.5h0M369.3,98.8h0M375.1,95.5h0M381.0,89.5h0M386.9,90.0h0M392.8,84.0h0M398.7,77.8h0M404.6,79.5h0M410.5,80.2h0M416.4,81.8h0M422.2,84.8h0M428.1,85.2h0M434.0,87.0h0M439.9,94.5h0M445.8,101.5h0M451.7,109.2h0M457.6,109.5h0M463.4,99.5h0M469.3,91.8h0M475.2,83.2h0M481.1,70.0h0M487.0,90.8h0M492.9,103.0h0M498.8,94.2h0M504.7,93.0h0M510.5,88.8h0M516.4,85.2h0M522.3,84.2h0M528.2,84.0h0M534.1,79.5h0M540.0,70.5h0M545.9,70.8h0M551.8,72.5h0M557.6,76.0h0M563.5,87.2h0M569.4,107.5h0M575.3,122.0h0M581.2,124.8h0M587.1,142.0h0M593.0,147.0h0M598.8,135.5h0M604.7,122.2h0M610.6,110.5h0M616.5,75.0h0M622.4,56.8h0M628.3,54.2h0M634.2,62.5h0M640.1,74.2h0M645.9,89.2h0M651.8,98.5h0M657.7,109.2h0M663.6,115.8h0M669.5,107.5h0M675.4,101.0h0M681.3,91.8h0M687.2,86.2h0M693.0,103.5h0M698.9,122.5h0M704.8,142.5h0M710.7,152.5h0M716.6,166.8h0M722.5,180.0h0M728.4,176.8h0M734.2,171.2h0M740.1,158.2h0M746.0,154.2h0M751.9,135.5h0M757.8,113.0h0M763.7,111.5h0M769.6,124.2h0M775.5,137.5h0M781.3,150.5h0M787.2,158.2h0M793.1,159.2h0M799.0,150.0h0M804.9,134.5h0M810.8,113.5h0M816.7,99.2h0M822.5,79.0h0M828.4,63.8h0M834.3,84.5h0M840.2,114.0h0M846.1,120.0h0M852.0,120.8h0M857.9,134.5h0M863.8,141.5h0M869.6,153.0h0M875.5,153.5h0M881.4,141.2h0M887.3,133.5h0M893.2,135.0h0M899.1,138.8h0M905.0,150.0h0M910.9,160.8h0M916.7,178.8h0M922.6,188.2h0M928.5,185.0h0M934.4,179.5h0M940.3,175.0h0M946.2,181.2h0M952.1,181.5h0M957.9,175.8h0M963.8,151.2h0M969.7,143.2h0M975.6,140.5h0M981.5,147.5h0M987.4,153.0h0M993.3,155.0h0M999.2,159.5h0M1005.0,160.8h0M1010.9,159.5h0M1016.8,156.8h0M1022.7,150.2h0M1028.6,131.5h0M1034.5,119.2h0M1040.4,114.5h0M1046.3,95.0h0M1052.1,85.0h0M1058.0,83.8h0M1063.9,84.8h0" stroke="#c80aa6" stroke-width="3.2"/>
</g>
<g fill="none" stroke-linejoin="round" stroke-linecap="round">
<polyline points="80.8,455.4 86.7,455.4 92.6,455.4 98.5,455.4 104.3,455.4 110.2,455.4 116.1,455.4 122.0,455.4 127.9,455.4 133.8,455.4 139.7,455.4 145.6,455.4 151.4,455.4 157.3,455.4 163.2,455.4 169.1,455.4 175.0,455.4 180.9,455.4 186.8,455.4 192.7,455.4 198.5,455.4 204.4,455.4 210.3,455.4 216.2,455.4 222.1,455.4 228.0,455.4 233.9,455.4 239.7,455.4 245.6,455.4 251.5,455.4 257.4,455.4 263.3,455.4 269.2,455.4 275.1,455.4 281.0,455.4 286.8,455.4 292.7,455.4 298.6,455.4 304.5,455.4 310.4,455.4 316.3,455.4 322.2,455.4 328.1,455.4 333.9,455.4 339.8,455.4 345.7,455.4 351.6,455.4 357.5,455.4 363.4,455.4 369.3,455.4 375.1,455.4 381.0,455.4 386.9,455.4 392.8,455.4 398.7,455.4 404.6,455.4 410.5,455.4 416.4,455.4 422.2,455.4 428.1,455.4 434.0,455.4 439.9,455.4 445.8,455.4 451.7,455.4 457.6,455.4 463.4,455.4 469.3,455.4 475.2,455.4 481.1,455.4 487.0,455.4 492.9,455.4 498.8,455.4 504.7,455.4 510.5,455.4 516.4,455.4 522.3,455.4 528.2,455.4 534.1,455.4 540.0,455.4 545.9,455.4 551.8,455.4 557.6,455.4 563.5,455.4 569.4,455.4 575.3,455.4 581.2,455.4 587.1,455.4 593.0,455.4 598.8,455.4 604.7,455.4 610.6,455.4 616.5,455.4 622.4,454.6 628.3,454.0 634.2,454.0 640.1,454.6 645.9,455.4 651.8,455.4 657.7,455.4 663.6,455.4 669.5,455.4 675.4,455.4 681.3,455.4 687.2,455.4 693.0,455.4 698.9,455.4 704.8,455.4 710.7,455.9 716.6,455.9 722.5,455.9 728.4,455.9 734.2,455.9 740.1,455.9 746.0,455.9 751.9,455.9 757.8,455.9 763.7,455.9 769.6,455.9 775.5,455.9 781.3,455.9 787.2,455.9 793.1,455.9 799.0,455.9 804.9,455.9 810.8,455.9 816.7,455.9 822.5,455.9 828.4,455.9 834.3,455.9 840.2,455.9 846.1,455.9 852.0,455.9 857.9,455.9 863.8,455.9 869.6,455.9 875.5,455.9 881.4,457.2 887.3,457.2 893.2,457.2 899.1,457.2 905.0,457.2 910.9,457.2 916.7,457.2 922.6,457.2 928.5,456.0 934.4,456.0 940.3,456.0 946.2,455.9 952.1,455.9 957.9,455.9 963.8,455.9 969.7,455.9 975.6,455.8 981.5,455.8 987.4,455.8 993.3,455.8 999.2,455.8 1005.0,455.7 1010.9,455.7 1016.8,455.7 1022.7,455.7 1028.6,455.7 1034.5,455.6 1040.4,455.6 1046.3,455.6 1052.1,455.6 1058.0,455.6 1063.9,455.5" transform="translate(1,1)" stroke="#000" stroke-opacity="0.48" stroke-width="1.9"/>
<polyline points="80.8,455.4 86.7,455.4 92.6,455.4 98.5,455.4 104.3,455.4 110.2,455.4 116.1,455.4 122.0,455.4 127.9,455.4 133.8,455.4 139.7,455.4 145.6,455.4 151.4,455.4 157.3,455.4 163.2,455.4 169.1,455.4 175.0,455.4 180.9,455.4 186.8,455.4 192.7,455.4 198.5,455.4 204.4,455.4 210.3,455.4 216.2,455.4 222.1,455.4 228.0,455.4 233.9,455.4 239.7,455.4 245.6,455.4 251.5,455.4 257.4,455.4 263.3,455.4 269.2,455.4 275.1,455.4 281.0,455.4 286.8,455.4 292.7,455.4 298.6,455.4 304.5,455.4 310.4,455.4 316.3,455.4 322.2,455.4 328.1,455.4 333.9,455.4 339.8,455.4 345.7,455.4 351.6,455.4 357.5,455.4 363.4,455.4 369.3,455.4 375.1,455.4 381.0,455.4 386.9,455.4 392.8,455.4 398.7,455.4 404.6,455.4 410.5,455.4 416.4,455.4 422.2,455.4 428.1,455.4 434.0,455.4 439.9,455.4 445.8,455.4 451.7,455.4 457.6,455.4 463.4,455.4 469.3,455.4 475.2,455.4 481.1,455.4 487.0,455.4 492.9,455.4 498.8,455.4 504.7,455.4 510.5,455.4 516.4,455.4 522.3,455.4 528.2,455.4 534.1,455.4 540.0,455.4 545.9,455.4 551.8,455.4 557.6,455.4 563.5,455.4 569.4,455.4 575.3,455.4 581.2,455.4 587.1,455.4 593.0,455.4 598.8,455.4 604.7,455.4 610.6,455.4 616.5,455.4 622.4,454.6 628.3,454.0 634.2,454.0 640.1,454.6 645.9,455.4 651.8,455.4 657.7,455.4 663.6,455.4 669.5,455.4 675.4,455.4 681.3,455.4 687.2,455.4 693.0,455.4 698.9,455.4 704.8,455.4 710.7,455.9 716.6,455.9 722.5,455.9 728.4,455.9 734.2,455.9 740.1,455.9 746.0,455.9 751.9,455.9 757.8,455.9 763.7,455.9 769.6,455.9 775.5,455.9 781.3,455.9 787.2,455.9 793.1,455.9 799.0,455.9 804.9,455.9 810.8,455.9 816.7,455.9 822.5,455.9 828.4,455.9 834.3,455.9 840.2,455.9 846.1,455.9 852.0,455.9 857.9,455.9 863.8,455.9 869.6,455.9 875.5,455.9 881.4,457.2 887.3,457.2 893.2,457.2 899.1,457.2 905.0,457.2 910.9,457.2 916.7,457.2 922.6,457.2 928.5,456.0 934.4,456.0 940.3,456.0 946.2,455.9 952.1,455.9 957.9,455.9 963.8,455.9 969.7,455.9 975.6,455.8 981.5,455.8 987.4,455.8 993.3,455.8 999.2,455.8 1005.0,455.7 1010.9,455.7 1016.8,455.7 1022.7,455.7 1028.6,455.7 1034.5,455.6 1040.4,455.6 1046.3,455.6 1052.1,455.6 1058.0,455.6 1063.9,455.5" stroke="#ffff00" stroke-width="1.9"/>
<path d="M80.8,455.4h0M86.7,455.4h0M92.6,455.4h0M98.5,455.4h0M104.3,455.4h0M110.2,455.4h0M116.1,455.4h0M122.0,455.4h0M127.9,455.4h0M133.8,455.4h0M139.7,455.4h0M145.6,455.4h0M151.4,455.4h0M157.3,455.4h0M163.2,455.4h0M169.1,455.4h0M175.0,455.4h0M180.9,455.4h0M186.8,455.4h0M192.7,455.4h0M198.5,455.4h0M204.4,455.4h0M210.3,455.4h0M216.2,455.4h0M222.1,455.4h0M228.0,455.4h0M233.9,455.4h0M239.7,455.4h0M245.6,455.4h0M251.5,455.4h0M257.4,455.4h0M263.3,455.4h0M269.2,455.4h0M275.1,455.4h0M281.0,455.4h0M286.8,455.4h0M292.7,455.4h0M298.6,455.4h0M304.5,455.4h0M310.4,455.4h0M316.3,455.4h0M322.2,455.4h0M328.1,455.4h0M333.9,455.4h0M339.8,455.4h0M345.7,455.4h0M351.6,455.4h0M357.5,455.4h0M363.4,455.4h0M369.3,455.4h0M375.1,455.4h0M381.0,455.4h0M386.9,455.4h0M392.8,455.4h0M398.7,455.4h0M404.6,455.4h0M410.5,455.4h0M416.4,455.4h0M422.2,455.4h0M428.1,455.4h0M434.0,455.4h0M439.9,455.4h0M445.8,455.4h0M451.7,455.4h0M457.6,455.4h0M463.4,455.4h0M469.3,455.4h0M475.2,455.4h0M481.1,455.4h0M487.0,455.4h0M492.9,455.4h0M498.8,455.4h0M504.7,455.4h0M510.5,455.4h0M516.4,455.4h0M522.3,455.4h0M528.2,455.4h0M534.1,455.4h0M540.0,455.4h0M545.9,455.4h0M551.8,455.4h0M557.6,455.4h0M563.5,455.4h0M569.4,455.4h0M575.3,455.4h0M581.2,455.4h0M587.1,455.4h0M593.0,455.4h0M598.8,455.4h0M604.7,455.4h0M610.6,455.4h0M616.5,455.4h0M622.4,454.6h0M628.3,454.0h0M634.2,454.0h0M640.1,454.6h0M645.9,455.4h0M651.8,455.4h0M657.7,455.4h0M663.6,455.4h0M669.5,455.4h0M675.4,455.4h0M681.3,455.4h0M687.2,455.4h0M693.0,455.4h0M698.9,455.4h0M704.8,455.4h0M710.7,455.9h0M716.6,455.9h0M722.5,455.9h0M728.4,455.9h0M734.2,455.9h0M740.1,455.9h0M746.0,455.9h0M751.9,455.9h0M757.8,455.9h0M763.7,455.9h0M769.6,455.9h0M775.5,455.9h0M781.3,455.9h0M787.2,455.9h0M793.1,455.9h0M799.0,455.9h0M804.9,455.9h0M810.8,455.9h0M816.7,455.9h0M822.5,455.9h0M828.4,455.9h0M834.3,455.9h0M840.2,455.9h0M846.1,455.9h0M852.0,455.9h0M857.9,455.9h0M863.8,455.9h0M869.6,455.9h0M875.5,455.9h0M881.4,457.2h0M887.3,457.2h0M893.2,457.2h0M899.1,457.2h0M905.0,457.2h0M910.9,457.2h0M916.7,457.2h0M922.6,457.2h0M928.5,456.0h0M934.4,456.0h0M940.3,456.0h0M946.2,455.9h0M952.1,455.9h0M957.9,455.9h0M963.8,455.9h0M969.7,455.9h0M975.6,455.8h0M981.5,455.8h0M987.4,455.8h0M993.3,455.8h0M999.2,455.8h0M1005.0,455.7h0M1010.9,455.7h0M1016.8,455.7h0M1022.7,455.7h0M1028.6,455.7h0M1034.5,455.6h0M1040.4,455.6h0M1046.3,455.6h0M1052.1,455.6h0M1058.0,455.6h0M1063.9,455.5h0" transform="translate(1,1)" stroke="#000" stroke-opacity="0.50" stroke-width="3.2"/>
<path d="M80.8,455.4h0M86.7,455.4h0M92.6,455.4h0M98.5,455.4h0M104.3,455.4h0M110.2,455.4h0M116.1,455.4h0M122.0,455.4h0M127.9,455.4h0M133.8,455.4h0M139.7,455.4h0M145.6,455.4h0M151.4,455.4h0M157.3,455.4h0M163.2,455.4h0M169.1,455.4h0M175.0,455.4h0M180.9,455.4h0M186.8,455.4h0M192.7,455.4h0M198.5,455.4h0M204.4,455.4h0M210.3,455.4h0M216.2,455.4h0M222.1,455.4h0M228.0,455.4h0M233.9,455.4h0M239.7,455.4h0M245.6,455.4h0M251.5,455.4h0M257.4,455.4h0M263.3,455.4h0M269.2,455.4h0M275.1,455.4h0M281.0,455.4h0M286.8,455.4h0M292.7,455.4h0M298.6,455.4h0M304.5,455.4h0M310.4,455.4h0M316.3,455.4h0M322.2,455.4h0M328.1,455.4h0M333.9,455.4h0M339.8,455.4h0M345.7,455.4h0M351.6,455.4h0M357.5,455.4h0M363.4,455.4h0M369.3,455.4h0M375.1,455.4h0M381.0,455.4h0M386.9,455.4h0M392.8,455.4h0M398.7,455.4h0M404.6,455.4h0M410.5,455.4h0M416.4,455.4h0M422.2,455.4h0M428.1,455.4h0M434.0,455.4h0M439.9,455.4h0M445.8,455.4h0M451.7,455.4h0M457.6,455.4h0M463.4,455.4h0M469.3,455.4h0M475.2,455.4h0M481.1,455.4h0M487.0,455.4h0M492.9,455.4h0M498.8,455.4h0M504.7,455.4h0M510.5,455.4h0M516.4,455.4h0M522.3,455.4h0M528.2,455.4h0M534.1,455.4h0M540.0,455.4h0M545.9,455.4h0M551.8,455.4h0M557.6,455.4h0M563.5,455.4h0M569.4,455.4h0M575.3,455.4h0M581.2,455.4h0M587.1,455.4h0M593.0,455.4h0M598.8,455.4h0M604.7,455.4h0M610.6,455.4h0M616.5,455.4h0M622.4,454.6h0M628.3,454.0h0M634.2,454.0h0M640.1,454.6h0M645.9,455.4h0M651.8,455.4h0M657.7,455.4h0M663.6,455.4h0M669.5,455.4h0M675.4,455.4h0M681.3,455.4h0M687.2,455.4h0M693.0,455.4h0M698.9,455.4h0M704.8,455.4h0M710.7,455.9h0M716.6,455.9h0M722.5,455.9h0M728.4,455.9h0M734.2,455.9h0M740.1,455.9h0M746.0,455.9h0M751.9,455.9h0M757.8,455.9h0M763.7,455.9h0M769.6,455.9h0M775.5,455.9h0M781.3,455.9h0M787.2,455.9h0M793.1,455.9h0M799.0,455.9h0M804.9,455.9h0M810.8,455.9h0M816.7,455.9h0M822.5,455.9h0M828.4,455.9h0M834.3,455.9h0M840.2,455.9h0M846.1,455.9h0M852.0,455.9h0M857.9,455.9h0M863.8,455.9h0M869.6,455.9h0M875.5,455.9h0M881.4,457.2h0M887.3,457.2h0M893.2,457.2h0M899.1,457.2h0M905.0,457.2h0M910.9,457.2h0M916.7,457.2h0M922.6,457.2h0M928.5,456.0h0M934.4,456.0h0M940.3,456.0h0M946.2,455.9h0M952.1,455.9h0M957.9,455.9h0M963.8,455.9h0M969.7,455.9h0M975.6,455.8h0M981.5,455.8h0M987.4,455.8h0M993.3,455.8h0M999.2,455.8h0M1005.0,455.7h0M1010.9,455.7h0M1016.8,455.7h0M1022.7,455.7h0M1028.6,455.7h0M1034.5,455.6h0M1040.4,455.6h0M1046.3,455.6h0M1052.1,455.6h0M1058.0,455.6h0M1063.9,455.5h0" stroke="#ffff00" stroke-width="3.2"/>
</g>
<g fill="none" stroke-linejoin="round" stroke-linecap="round">
<polyline points="80.8,422.5 86.7,401.2 92.6,379.2 98.5,362.5 104.3,353.0 110.2,338.2 116.1,327.5 122.0,320.5 127.9,324.0 133.8,340.0 139.7,350.0 145.6,348.0 151.4,351.5 157.3,342.5 163.2,339.5 169.1,342.0 175.0,351.5 180.9,361.8 186.8,381.2 192.7,395.8 198.5,409.5 204.4,422.0 210.3,425.0 216.2,432.0 222.1,441.2 228.0,449.5 233.9,453.2 239.7,452.0 245.6,448.8 251.5,444.5 257.4,442.5 263.3,438.2 269.2,437.0 275.1,433.0 281.0,436.2 286.8,428.0 292.7,420.8 298.6,417.5 304.5,410.0 310.4,395.0 316.3,388.8 322.2,371.2 328.1,347.5 333.9,335.5 339.8,345.0 345.7,365.0 351.6,388.0 357.5,412.5 363.4,431.2 369.3,438.8 375.1,443.8 381.0,452.0 386.9,456.0 392.8,458.6 398.7,459.6 404.6,458.0 410.5,456.4 416.4,455.0 422.2,454.5 428.1,452.0 434.0,447.5 439.9,443.2 445.8,438.2 451.7,431.8 457.6,425.5 463.4,420.5 469.3,411.8 475.2,415.5 481.1,422.5 487.0,406.2 492.9,403.0 498.8,422.0 504.7,428.8 510.5,437.5 516.4,442.5 522.3,443.0 528.2,438.0 534.1,435.0 540.0,433.0 545.9,425.5 551.8,424.2 557.6,420.8 563.5,418.0 569.4,408.8 575.3,401.8 581.2,405.0 587.1,397.0 593.0,402.0 598.8,414.2 604.7,427.5 610.6,439.2 616.5,450.0 622.4,457.6 628.3,463.0 634.2,461.0 640.1,455.6 645.9,446.2 651.8,432.5 657.7,417.5 663.6,413.2 669.5,411.8 675.4,409.2 681.3,402.5 687.2,393.8 693.0,388.0 698.9,392.5 704.8,388.2 710.7,378.8 716.6,368.8 722.5,358.8 728.4,364.2 734.2,370.5 740.1,373.2 746.0,380.0 751.9,383.0 757.8,368.8 763.7,356.2 769.6,344.5 775.5,350.5 781.3,356.8 787.2,358.0 793.1,369.5 799.0,381.2 804.9,395.5 810.8,410.0 816.7,417.0 822.5,424.2 828.4,436.8 834.3,445.0 840.2,450.8 846.1,453.8 852.0,451.2 857.9,438.2 863.8,420.0 869.6,408.8 875.5,403.2 881.4,401.2 887.3,391.2 893.2,372.5 899.1,340.5 905.0,325.0 910.9,323.8 916.7,328.0 922.6,334.5 928.5,345.0 934.4,356.8 940.3,362.5 946.2,353.8 952.1,350.0 957.9,353.8 963.8,360.8 969.7,356.2 975.6,357.0 981.5,352.0 987.4,362.0 993.3,366.8 999.2,374.2 1005.0,381.2 1010.9,382.5 1016.8,383.8 1022.7,385.8 1028.6,396.2 1034.5,408.8 1040.4,415.8 1046.3,425.5 1052.1,435.8 1058.0,445.0 1063.9,452.0" transform="translate(1,1)" stroke="#000" stroke-opacity="0.48" stroke-width="1.9"/>
<polyline points="80.8,422.5 86.7,401.2 92.6,379.2 98.5,362.5 104.3,353.0 110.2,338.2 116.1,327.5 122.0,320.5 127.9,324.0 133.8,340.0 139.7,350.0 145.6,348.0 151.4,351.5 157.3,342.5 163.2,339.5 169.1,342.0 175.0,351.5 180.9,361.8 186.8,381.2 192.7,395.8 198.5,409.5 204.4,422.0 210.3,425.0 216.2,432.0 222.1,441.2 228.0,449.5 233.9,453.2 239.7,452.0 245.6,448.8 251.5,444.5 257.4,442.5 263.3,438.2 269.2,437.0 275.1,433.0 281.0,436.2 286.8,428.0 292.7,420.8 298.6,417.5 304.5,410.0 310.4,395.0 316.3,388.8 322.2,371.2 328.1,347.5 333.9,335.5 339.8,345.0 345.7,365.0 351.6,388.0 357.5,412.5 363.4,431.2 369.3,438.8 375.1,443.8 381.0,452.0 386.9,456.0 392.8,458.6 398.7,459.6 404.6,458.0 410.5,456.4 416.4,455.0 422.2,454.5 428.1,452.0 434.0,447.5 439.9,443.2 445.8,438.2 451.7,431.8 457.6,425.5 463.4,420.5 469.3,411.8 475.2,415.5 481.1,422.5 487.0,406.2 492.9,403.0 498.8,422.0 504.7,428.8 510.5,437.5 516.4,442.5 522.3,443.0 528.2,438.0 534.1,435.0 540.0,433.0 545.9,425.5 551.8,424.2 557.6,420.8 563.5,418.0 569.4,408.8 575.3,401.8 581.2,405.0 587.1,397.0 593.0,402.0 598.8,414.2 604.7,427.5 610.6,439.2 616.5,450.0 622.4,457.6 628.3,463.0 634.2,461.0 640.1,455.6 645.9,446.2 651.8,432.5 657.7,417.5 663.6,413.2 669.5,411.8 675.4,409.2 681.3,402.5 687.2,393.8 693.0,388.0 698.9,392.5 704.8,388.2 710.7,378.8 716.6,368.8 722.5,358.8 728.4,364.2 734.2,370.5 740.1,373.2 746.0,380.0 751.9,383.0 757.8,368.8 763.7,356.2 769.6,344.5 775.5,350.5 781.3,356.8 787.2,358.0 793.1,369.5 799.0,381.2 804.9,395.5 810.8,410.0 816.7,417.0 822.5,424.2 828.4,436.8 834.3,445.0 840.2,450.8 846.1,453.8 852.0,451.2 857.9,438.2 863.8,420.0 869.6,408.8 875.5,403.2 881.4,401.2 887.3,391.2 893.2,372.5 899.1,340.5 905.0,325.0 910.9,323.8 916.7,328.0 922.6,334.5 928.5,345.0 934.4,356.8 940.3,362.5 946.2,353.8 952.1,350.0 957.9,353.8 963.8,360.8 969.7,356.2 975.6,357.0 981.5,352.0 987.4,362.0 993.3,366.8 999.2,374.2 1005.0,381.2 1010.9,382.5 1016.8,383.8 1022.7,385.8 1028.6,396.2 1034.5,408.8 1040.4,415.8 1046.3,425.5 1052.1,435.8 1058.0,445.0 1063.9,452.0" stroke="#000000" stroke-width="1.9"/>
<path d="M80.8,422.5h0M86.7,401.2h0M92.6,379.2h0M98.5,362.5h0M104.3,353.0h0M110.2,338.2h0M116.1,327.5h0M122.0,320.5h0M127.9,324.0h0M133.8,340.0h0M139.7,350.0h0M145.6,348.0h0M151.4,351.5h0M157.3,342.5h0M163.2,339.5h0M169.1,342.0h0M175.0,351.5h0M180.9,361.8h0M186.8,381.2h0M192.7,395.8h0M198.5,409.5h0M204.4,422.0h0M210.3,425.0h0M216.2,432.0h0M222.1,441.2h0M228.0,449.5h0M233.9,453.2h0M239.7,452.0h0M245.6,448.8h0M251.5,444.5h0M257.4,442.5h0M263.3,438.2h0M269.2,437.0h0M275.1,433.0h0M281.0,436.2h0M286.8,428.0h0M292.7,420.8h0M298.6,417.5h0M304.5,410.0h0M310.4,395.0h0M316.3,388.8h0M322.2,371.2h0M328.1,347.5h0M333.9,335.5h0M339.8,345.0h0M345.7,365.0h0M351.6,388.0h0M357.5,412.5h0M363.4,431.2h0M369.3,438.8h0M375.1,443.8h0M381.0,452.0h0M386.9,456.0h0M392.8,458.6h0M398.7,459.6h0M404.6,458.0h0M410.5,456.4h0M416.4,455.0h0M422.2,454.5h0M428.1,452.0h0M434.0,447.5h0M439.9,443.2h0M445.8,438.2h0M451.7,431.8h0M457.6,425.5h0M463.4,420.5h0M469.3,411.8h0M475.2,415.5h0M481.1,422.5h0M487.0,406.2h0M492.9,403.0h0M498.8,422.0h0M504.7,428.8h0M510.5,437.5h0M516.4,442.5h0M522.3,443.0h0M528.2,438.0h0M534.1,435.0h0M540.0,433.0h0M545.9,425.5h0M551.8,424.2h0M557.6,420.8h0M563.5,418.0h0M569.4,408.8h0M575.3,401.8h0M581.2,405.0h0M587.1,397.0h0M593.0,402.0h0M598.8,414.2h0M604.7,427.5h0M610.6,439.2h0M616.5,450.0h0M622.4,457.6h0M628.3,463.0h0M634.2,461.0h0M640.1,455.6h0M645.9,446.2h0M651.8,432.5h0M657.7,417.5h0M663.6,413.2h0M669.5,411.8h0M675.4,409.2h0M681.3,402.5h0M687.2,393.8h0M693.0,388.0h0M698.9,392.5h0M704.8,388.2h0M710.7,378.8h0M716.6,368.8h0M722.5,358.8h0M728.4,364.2h0M734.2,370.5h0M740.1,373.2h0M746.0,380.0h0M751.9,383.0h0M757.8,368.8h0M763.7,356.2h0M769.6,344.5h0M775.5,350.5h0M781.3,356.8h0M787.2,358.0h0M793.1,369.5h0M799.0,381.2h0M804.9,395.5h0M810.8,410.0h0M816.7,417.0h0M822.5,424.2h0M828.4,436.8h0M834.3,445.0h0M840.2,450.8h0M846.1,453.8h0M852.0,451.2h0M857.9,438.2h0M863.8,420.0h0M869.6,408.8h0M875.5,403.2h0M881.4,401.2h0M887.3,391.2h0M893.2,372.5h0M899.1,340.5h0M905.0,325.0h0M910.9,323.8h0M916.7,328.0h0M922.6,334.5h0M928.5,345.0h0M934.4,356.8h0M940.3,362.5h0M946.2,353.8h0M952.1,350.0h0M957.9,353.8h0M963.8,360.8h0M969.7,356.2h0M975.6,357.0h0M981.5,352.0h0M987.4,362.0h0M993.3,366.8h0M999.2,374.2h0M1005.0,381.2h0M1010.9,382.5h0M1016.8,383.8h0M1022.7,385.8h0M1028.6,396.2h0M1034.5,408.8h0M1040.4,415.8h0M1046.3,425.5h0M1052.1,435.8h0M1058.0,445.0h0M1063.9,452.0h0" transform="translate(1,1)" stroke="#000" stroke-opacity="0.50" stroke-width="3.2"/>
<path d="M80.8,422.5h0M86.7,401.2h0M92.6,379.2h0M98.5,362.5h0M104.3,353.0h0M110.2,338.2h0M116.1,327.5h0M122.0,320.5h0M127.9,324.0h0M133.8,340.0h0M139.7,350.0h0M145.6,348.0h0M151.4,351.5h0M157.3,342.5h0M163.2,339.5h0M169.1,342.0h0M175.0,351.5h0M180.9,361.8h0M186.8,381.2h0M192.7,395.8h0M198.5,409.5h0M204.4,422.0h0M210.3,425.0h0M216.2,432.0h0M222.1,441.2h0M228.0,449.5h0M233.9,453.2h0M239.7,452.0h0M245.6,448.8h0M251.5,444.5h0M257.4,442.5h0M263.3,438.2h0M269.2,437.0h0M275.1,433.0h0M281.0,436.2h0M286.8,428.0h0M292.7,420.8h0M298.6,417.5h0M304.5,410.0h0M310.4,395.0h0M316.3,388.8h0M322.2,371.2h0M328.1,347.5h0M333.9,335.5h0M339.8,345.0h0M345.7,365.0h0M351.6,388.0h0M357.5,412.5h0M363.4,431.2h0M369.3,438.8h0M375.1,443.8h0M381.0,452.0h0M386.9,456.0h0M392.8,458.6h0M398.7,459.6h0M404.6,458.0h0M410.5,456.4h0M416.4,455.0h0M422.2,454.5h0M428.1,452.0h0M434.0,447.5h0M439.9,443.2h0M445.8,438.2h0M451.7,431.8h0M457.6,425.5h0M463.4,420.5h0M469.3,411.8h0M475.2,415.5h0M481.1,422.5h0M487.0,406.2h0M492.9,403.0h0M498.8,422.0h0M504.7,428.8h0M510.5,437.5h0M516.4,442.5h0M522.3,443.0h0M528.2,438.0h0M534.1,435.0h0M540.0,433.0h0M545.9,425.5h0M551.8,424.2h0M557.6,420.8h0M563.5,418.0h0M569.4,408.8h0M575.3,401.8h0M581.2,405.0h0M587.1,397.0h0M593.0,402.0h0M598.8,414.2h0M604.7,427.5h0M610.6,439.2h0M616.5,450.0h0M622.4,457.6h0M628.3,463.0h0M634.2,461.0h0M640.1,455.6h0M645.9,446.2h0M651.8,432.5h0M657.7,417.5h0M663.6,413.2h0M669.5,411.8h0M675.4,409.2h0M681.3,402.5h0M687.2,393.8h0M693.0,388.0h0M698.9,392.5h0M704.8,388.2h0M710.7,378.8h0M716.6,368.8h0M722.5,358.8h0M728.4,364.2h0M734.2,370.5h0M740.1,373.2h0M746.0,380.0h0M751.9,383.0h0M757.8,368.8h0M763.7,356.2h0M769.6,344.5h0M775.5,350.5h0M781.3,356.8h0M787.2,358.0h0M793.1,369.5h0M799.0,381.2h0M804.9,395.5h0M810.8,410.0h0M816.7,417.0h0M822.5,424.2h0M828.4,436.8h0M834.3,445.0h0M840.2,450.8h0M846.1,453.8h0M852.0,451.2h0M857.9,438.2h0M863.8,420.0h0M869.6,408.8h0M875.5,403.2h0M881.4,401.2h0M887.3,391.2h0M893.2,372.5h0M899.1,340.5h0M905.0,325.0h0M910.9,323.8h0M916.7,328.0h0M922.6,334.5h0M928.5,345.0h0M934.4,356.8h0M940.3,362.5h0M946.2,353.8h0M952.1,350.0h0M957.9,353.8h0M963.8,360.8h0M969.7,356.2h0M975.6,357.0h0M981.5,352.0h0M987.4,362.0h0M993.3,366.8h0M999.2,374.2h0M1005.0,381.2h0M1010.9,382.5h0M1016.8,383.8h0M1022.7,385.8h0M1028.6,396.2h0M1034.5,408.8h0M1040.4,415.8h0M1046.3,425.5h0M1052.1,435.8h0M1058.0,445.0h0M1063.9,452.0h0" stroke="#000000" stroke-width="3.2"/>
</g>
</g>
<text x="27.1" y="54.9" textLength="39.4" lengthAdjust="spacingAndGlyphs">10,000</text>
<text x="34.2" y="96.9" textLength="32.2" lengthAdjust="spacingAndGlyphs">9,000</text>
<text x="34.2" y="137.9" textLength="32.2" lengthAdjust="spacingAndGlyphs">8,000</text>
<text x="34.2" y="179.9" textLength="32.2" lengthAdjust="spacingAndGlyphs">7,000</text>
<text x="34.2" y="220.9" textLength="32.2" lengthAdjust="spacingAndGlyphs">6,000</text>
<text x="34.2" y="262.9" textLength="32.2" lengthAdjust="spacingAndGlyphs">5,000</text>
<text x="34.2" y="304.9" textLength="32.2" lengthAdjust="spacingAndGlyphs">4,000</text>
<text x="34.2" y="345.9" textLength="32.2" lengthAdjust="spacingAndGlyphs">3,000</text>
<text x="34.2" y="387.9" textLength="32.2" lengthAdjust="spacingAndGlyphs">2,000</text>
<text x="34.2" y="429.9" textLength="32.2" lengthAdjust="spacingAndGlyphs">1,000</text>
<text x="59.3" y="470.9" textLength="7.2" lengthAdjust="spacingAndGlyphs">0</text>
<text x="29.6" y="512.9" textLength="36.8" lengthAdjust="spacingAndGlyphs">-1,000</text>
<text x="60.2" y="528.2" textLength="39.8" lengthAdjust="spacingAndGlyphs">Mar 27</text>
<text x="202.2" y="528.2" textLength="39.8" lengthAdjust="spacingAndGlyphs">Mar 28</text>
<text x="343.2" y="528.2" textLength="39.8" lengthAdjust="spacingAndGlyphs">Mar 29</text>
<text x="484.2" y="528.2" textLength="39.8" lengthAdjust="spacingAndGlyphs">Mar 30</text>
<text x="626.2" y="528.2" textLength="39.8" lengthAdjust="spacingAndGlyphs">Mar 31</text>
<text x="771.0" y="528.2" textLength="32.3" lengthAdjust="spacingAndGlyphs">Apr 1</text>
<text x="912.0" y="528.2" textLength="32.3" lengthAdjust="spacingAndGlyphs">Apr 2</text>
<text x="1053.0" y="528.2" textLength="32.3" lengthAdjust="spacingAndGlyphs">Apr 3</text>
<text transform="translate(2,291.2) rotate(-90)" style="font-size:13.33px">MW</text>
<rect x="107.5" y="15.5" width="22" height="9" fill="#00ff00" stroke="#000" stroke-width="1" shape-rendering="crispEdges"/>
<text x="134.0" y="24" textLength="88.5" lengthAdjust="spacingAndGlyphs">Hydro - Mar 27</text>
<rect x="241.5" y="15.5" width="22" height="9" fill="#ff0000" stroke="#000" stroke-width="1" shape-rendering="crispEdges"/>
<text x="267.6" y="24" textLength="219.5" lengthAdjust="spacingAndGlyphs">Interchange(ADJ multiply -1) - Mar 27</text>
<rect x="513.5" y="15.5" width="22" height="9" fill="#cc0aa8" stroke="#000" stroke-width="1" shape-rendering="crispEdges"/>
<text x="540.2" y="24" textLength="121.5" lengthAdjust="spacingAndGlyphs">Natural Gas - Mar 27</text>
<rect x="684.5" y="15.5" width="22" height="9" fill="#ffff00" stroke="#000" stroke-width="1" shape-rendering="crispEdges"/>
<text x="710.8" y="24" textLength="84.5" lengthAdjust="spacingAndGlyphs">Other - Mar 27</text>
<rect x="816.5" y="15.5" width="22" height="9" fill="#000000" stroke="#000" stroke-width="1" shape-rendering="crispEdges"/>
<text x="843.3" y="24" textLength="82.0" lengthAdjust="spacingAndGlyphs">Wind - Mar 27</text>
</svg></body></html>
